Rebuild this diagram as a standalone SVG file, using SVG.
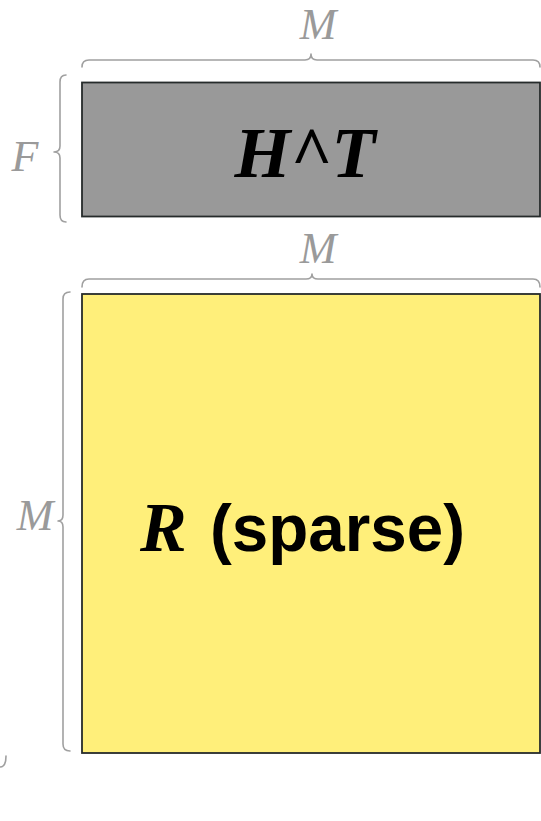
<svg xmlns="http://www.w3.org/2000/svg" width="541" height="821" viewBox="0 0 541 821">
<style>
.brace{fill:none;stroke:#a0a0a0;stroke-width:1.6;stroke-linecap:round;stroke-linejoin:round}
.dim{font-family:"Liberation Serif",serif;font-style:italic;font-size:44px;fill:#9a9a9a;text-anchor:middle}
.mat{stroke:#262b2b;stroke-width:1.8}
.big{font-family:"Liberation Serif",serif;font-style:italic;font-weight:bold;fill:#000}
.sans{font-family:"Liberation Sans",Arial,sans-serif;font-weight:bold;fill:#000}
</style>
<rect width="541" height="821" fill="#ffffff"/>
<g id="HT">
<rect class="mat" x="82" y="82.5" width="458" height="134" fill="#999999"/>
<text class="big" x="305" y="177" font-size="72" text-anchor="middle">H^T</text>
</g>
<g id="R">
<rect class="mat" x="82" y="294" width="458" height="459" fill="#FFEF7A"/>
<text class="big" x="140" y="551" font-size="70">R</text>
<text class="sans" x="210" y="551" font-size="67" textLength="255" lengthAdjust="spacingAndGlyphs">(sparse)</text>
</g>
<g id="connectors">
<path class="brace" d="M82,67 Q82,60 89,60 L305,60 Q311,60 311,54 Q311,60 317,60 L533,60 Q540,60 540,67"/>
<path class="brace" d="M66,75 Q60,75 60,82 L60,146 Q60,152 54,152 Q60,152 60,158 L60,215 Q60,222 66,222"/>
<path class="brace" d="M82,287 Q82,279 89,279 L306,279 Q312,279 312,274 Q312,279 318,279 L533,279 Q540,279 540,287"/>
<path class="brace" d="M70,292 Q63,292 63,299 L63,515 Q63,521 58,521 Q63,521 63,527 L63,744 Q63,751 70,751"/>
<path class="brace" d="M6,756 Q6,767 0,767"/>
</g>
<g id="labels">
<text class="dim" x="318" y="39">M</text>
<text class="dim" x="25" y="171">F</text>
<text class="dim" x="318" y="263">M</text>
<text class="dim" x="35" y="530">M</text>
</g>
</svg>
